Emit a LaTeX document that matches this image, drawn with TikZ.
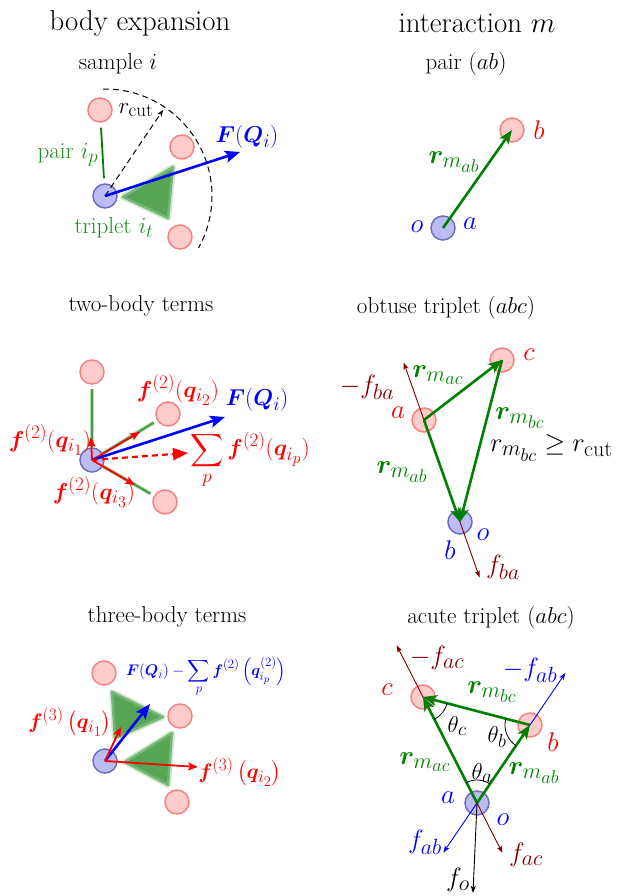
\RequirePackage{fix-cm}
\documentclass[tikz,border=0pt]{standalone}
\usepackage{amsmath,amssymb,bm}
\usetikzlibrary{arrows.meta,angles,calc}
\DeclareMathSizes{23}{23}{19}{16}
\DeclareMathSizes{26.5}{26.5}{22}{18.4}
\DeclareMathSizes{21}{21}{17.4}{14.5}
\DeclareMathSizes{15.4}{15.4}{12.8}{10.7}
\definecolor{dgreen}{RGB}{0,128,0}
\definecolor{lgreen}{RGB}{34,139,34}
\definecolor{trigreen}{RGB}{85,165,85}
\definecolor{dred}{RGB}{128,0,0}
\definecolor{pinkfill}{RGB}{255,204,204}
\definecolor{pinkdraw}{RGB}{245,130,130}
\definecolor{bfill}{RGB}{188,188,245}
\definecolor{bdraw}{RGB}{110,110,185}
\begin{document}
\begin{tikzpicture}[x=1pt,y=1pt,
 pinkc/.style={circle,minimum size=24pt,inner sep=0pt,fill=pinkfill,draw=pinkdraw,line width=1.5pt},
 bluec/.style={circle,minimum size=24pt,inner sep=0pt,fill=bfill,draw=bdraw,line width=1.5pt},
 garrow/.style={draw=dgreen,line width=2.6pt,-{Stealth[length=14pt,width=11pt,inset=4pt]}},
 barrow/.style={draw=blue,line width=2.6pt,-{Stealth[length=15pt,width=12pt,inset=3pt]}},
 rarrow/.style={draw=red,line width=1.8pt,-{Stealth[length=10pt,width=8pt,inset=2.5pt]}},
 thinarrow/.style={line width=0.9pt,-{Stealth[length=7pt,width=5pt,inset=1.5pt]}},
 ttl/.style={font=\fontsize{28.8}{33}\selectfont,anchor=base},
 sub/.style={font=\fontsize{23}{27}\selectfont,anchor=base},
 lbl/.style={font=\fontsize{23}{27}\selectfont},
 rlbl/.style={font=\fontsize{26.5}{30}\selectfont},
 flbl/.style={font=\fontsize{21}{25}\selectfont},
 letl/.style={font=\fontsize{27}{31}\selectfont},
 trihalo/.style={draw=trigreen,opacity=0.25,line width=6pt,line join=round},
 tri/.style={fill=trigreen,draw=trigreen!80,line width=2.5pt,line join=round},
 blurhalo/.style={draw=lgreen,opacity=0.3,line width=4pt},
 blurline/.style={draw=lgreen!85,line width=2pt},
 angarc/.style={draw,line width=0.8pt,angle radius=25pt}
]
\useasboundingbox (0,0) rectangle (618,-896);

% ================= panel 1: body expansion =================
\node[ttl] (t1) at (140,-31) {body expansion};
\node[sub] (s1) at (118,-70) {sample $i$};
\draw[trihalo] (123,-197) -- (173,-167) -- (168,-218) -- cycle;
\fill[tri] (123,-197) -- (173,-167) -- (168,-218) -- cycle;
\node[pinkc] (p1a) at (100,-110) {};
\node[pinkc] (p1b) at (182,-147) {};
\node[pinkc] (p1c) at (180,-237) {};
\node[bluec] (o1) at (105,-196) {};
\draw[dgreen,line width=1.8pt,shorten <=5pt,shorten >=5pt] (p1a) -- (o1);
\draw[dashed,line width=1pt,dash pattern=on 6pt off 4pt] (o1.center) ++(91:107) arc[start angle=91,end angle=-29,radius=107];
\coordinate (rc) at ($(o1.center)+(56:104)$);
\draw[dashed,line width=1pt,dash pattern=on 6pt off 4pt,-{Stealth[length=7pt,width=5pt]}] (o1.center) -- (rc);
\coordinate (F1) at (240,-152);
\draw[barrow] (o1.center) -- (F1);
\node[lbl] (rcl) at (136,-110) {$r_{\mathrm{cut}}$};
\node[lbl,text=blue] (F1l) at (247,-137) {$\bm{F}(\bm{Q}_i)$};
\node[lbl,text=lgreen] (pl) at (68,-155) {pair $i_p$};
\node[lbl,text=lgreen] (tl) at (114,-228) {triplet $i_t$};

% ================= panel 2: pair =================
\node[ttl] (t2) at (477,-33) {interaction $m$};
\node[sub] (s2) at (466,-70) {pair $(ab)$};
\node[bluec] (o2) at (443,-228) {};
\node[pinkc] (b2) at (512,-130) {};
\draw[garrow] (o2.center) -- (b2.center);
\node[rlbl,text=dgreen] (r2) at (454,-162) {$\bm{r}_{m_{ab}}$};
\node[letl,text=red] (b2l) at (539,-130) {$b$};
\node[letl,text=blue] (o2l) at (417,-227) {$o$};
\node[letl,text=blue] (a2l) at (470,-224) {$a$};

% ================= panel 3: two-body =================
\node[sub] (t3) at (141,-311) {two-body terms};
\node[pinkc] (p3a) at (92,-372) {};
\node[pinkc] (p3b) at (168,-414) {};
\node[pinkc] (p3c) at (165,-502) {};
\node[bluec] (o3) at (92,-460) {};
\draw[blurhalo,shorten >=4pt] (o3) -- (p3a);
\draw[blurhalo,shorten >=4pt] (o3) -- (p3b);
\draw[blurhalo,shorten >=4pt] (o3) -- (p3c);
\draw[blurline,shorten >=4pt] (o3) -- (p3a);
\draw[blurline,shorten >=4pt] (o3) -- (p3b);
\draw[blurline,shorten >=4pt] (o3) -- (p3c);
\coordinate (f31) at (91,-437);
\coordinate (f32) at (140,-432);
\coordinate (f33) at (135,-485);
\coordinate (F3) at (225,-417);
\coordinate (S3) at (188,-453);
\draw[rarrow] (o3.center) -- (f31);
\draw[rarrow] (o3.center) -- (f32);
\draw[rarrow] (o3.center) -- (f33);
\draw[barrow] (o3.center) -- (F3);
\draw[draw=red,line width=2.2pt,dash pattern=on 6pt off 4pt,-{Triangle[length=15pt,width=12pt]}] (o3.center) -- (S3);
\node[lbl,text=red] (l32) at (178,-390) {$\bm{f}^{(2)}(\bm{q}_{i_2})$};
\node[lbl,text=red] (l31) at (50,-440) {$\bm{f}^{(2)}(\bm{q}_{i_1})$};
\node[lbl,text=red] (l33) at (94,-492) {$\bm{f}^{(2)}(\bm{q}_{i_3})$};
\node[lbl,text=blue] (lF3) at (257,-400) {$\bm{F}(\bm{Q}_i)$};
\node[lbl,text=red] (lS3) at (250,-460) {$\displaystyle\sum_p \bm{f}^{(2)}(\bm{q}_{i_p})$};

% ================= panel 4: obtuse triplet =================
\node[sub] (t4) at (446,-313) {obtuse triplet $(abc)$};
\node[pinkc] (a4) at (424,-420) {};
\node[pinkc] (c4) at (502,-360) {};
\node[bluec] (b4) at (460,-522) {};
\coordinate (fa4) at ($(a4.center)!-61pt!(b4.center)$);
\coordinate (fb4) at ($(b4.center)!-59pt!(a4.center)$);
\draw[thinarrow,dred] (a4.center) -- (fa4);
\draw[thinarrow,dred] (b4.center) -- (fb4);
\draw[dred,line width=0.9pt] (a4.center) -- (b4.center);
\draw[garrow] (a4.center) -- (c4.center);
\draw[garrow] (a4.center) -- (b4.center);
\draw[garrow] (c4.center) -- (b4.center);
\node[letl,text=red] (c4l) at (529,-355) {$c$};
\node[letl,text=red] (a4l) at (398,-413) {$a$};
\node[letl,text=blue] (b4l) at (450,-550) {$b$};
\node[letl,text=blue] (o4l) at (483,-535) {$o$};
\node[rlbl,text=dred] (mf4) at (367,-387) {$-f_{ba}$};
\node[rlbl,text=dred] (pf4) at (503,-567) {$f_{ba}$};
\node[rlbl,text=dgreen] (rac4) at (438,-375) {$\bm{r}_{m_{ac}}$};
\node[rlbl,text=dgreen] (rbc4) at (520,-418) {$\bm{r}_{m_{bc}}$};
\node[rlbl,text=dgreen] (rab4) at (402,-472) {$\bm{r}_{m_{ab}}$};
\node[rlbl,anchor=west,inner sep=0pt] (ge4) at (490,-448) {$r_{m_{bc}} \geq r_{\mathrm{cut}}$};

% ================= panel 5: three-body =================
\node[sub] (t5) at (167,-622) {three-body terms};
\draw[trihalo] (112,-692) -- (163,-717) -- (115,-738) -- cycle;
\draw[trihalo] (172,-733) -- (125,-762) -- (168,-785) -- cycle;
\fill[tri] (112,-692) -- (163,-717) -- (115,-738) -- cycle;
\fill[tri] (172,-733) -- (125,-762) -- (168,-785) -- cycle;
\node[pinkc] (p5a) at (104,-673) {};
\node[pinkc] (p5b) at (180,-716) {};
\node[pinkc] (p5c) at (177,-802) {};
\node[bluec] (o5) at (105,-761) {};
\coordinate (F5) at (150,-704);
\coordinate (f51) at (121,-727);
\coordinate (f52) at (198,-767);
\draw[barrow] (o5.center) -- (F5);
\draw[rarrow] (o5.center) -- (f51);
\draw[rarrow] (o5.center) -- (f52);
\node[font=\fontsize{15.4}{18}\selectfont,text=blue] (l5) at (206,-677) {$\bm{F}(\bm{Q}_i) - \displaystyle\sum_p \bm{f}^{(2)}\left(\bm{q}^{(2)}_{i_p}\right)$};
\node[flbl,text=red] (l51) at (70,-722) {$\bm{f}^{(3)}\left(\bm{q}_{i_1}\right)$};
\node[flbl,text=red] (l52) at (240,-772) {$\bm{f}^{(3)}\left(\bm{q}_{i_2}\right)$};

% ================= panel 6: acute triplet =================
\node[sub] (t6) at (491,-623) {acute triplet $(abc)$};
\node[pinkc] (c6) at (423,-697) {};
\node[pinkc] (b6) at (530,-725) {};
\node[bluec] (a6) at (477,-803) {};
\coordinate (tc6) at ($(c6.center)!-58pt!(a6.center)$);
\coordinate (fac6) at ($(a6.center)!-56pt!(c6.center)$);
\coordinate (tb6) at ($(b6.center)!-63pt!(a6.center)$);
\coordinate (fab6) at ($(a6.center)!-60pt!(b6.center)$);
\coordinate (fo6) at (473,-893);
\draw[thinarrow,dred] (a6.center) -- (tc6);
\draw[thinarrow,dred] (a6.center) -- (fac6);
\draw[thinarrow,blue] (a6.center) -- (tb6);
\draw[thinarrow,blue] (a6.center) -- (fab6);
\draw[thinarrow,black] (a6.center) -- (fo6);
\draw[garrow] (a6.center) -- (c6.center);
\draw[garrow] (a6.center) -- (b6.center);
\draw[garrow] (b6.center) -- (c6.center);
\pic[angarc] {angle=a6--c6--b6};
\pic[angarc] {angle=c6--b6--a6};
\pic[angarc,angle radius=23pt] {angle=b6--a6--c6};
\node[lbl] (thc) at (457,-726) {$\theta_c$};
\node[lbl] (thb) at (497,-737) {$\theta_b$};
\node[lbl] (tha) at (482,-773) {$\theta_a$};
\node[letl,text=red] (c6l) at (387,-690) {$c$};
\node[letl,text=red] (b6l) at (553,-742) {$b$};
\node[letl,text=blue] (a6l) at (448,-798) {$a$};
\node[letl,text=blue] (o6l) at (503,-820) {$o$};
\node[rlbl,text=dred] (mfac) at (437,-658) {$-f_{ac}$};
\node[rlbl,text=blue] (mfab) at (530,-670) {$-f_{ab}$};
\node[rlbl,text=blue] (pfab) at (425,-842) {$f_{ab}$};
\node[rlbl,text=dred] (pfac) at (526,-855) {$f_{ac}$};
\node[rlbl] (fol) at (458,-880) {$f_o$};
\node[rlbl,text=dgreen] (rbc6) at (492,-692) {$\bm{r}_{m_{bc}}$};
\node[rlbl,text=dgreen] (rac6) at (425,-762) {$\bm{r}_{m_{ac}}$};
\node[rlbl,text=dgreen] (rab6) at (534,-773) {$\bm{r}_{m_{ab}}$};
\end{tikzpicture}
\end{document}
